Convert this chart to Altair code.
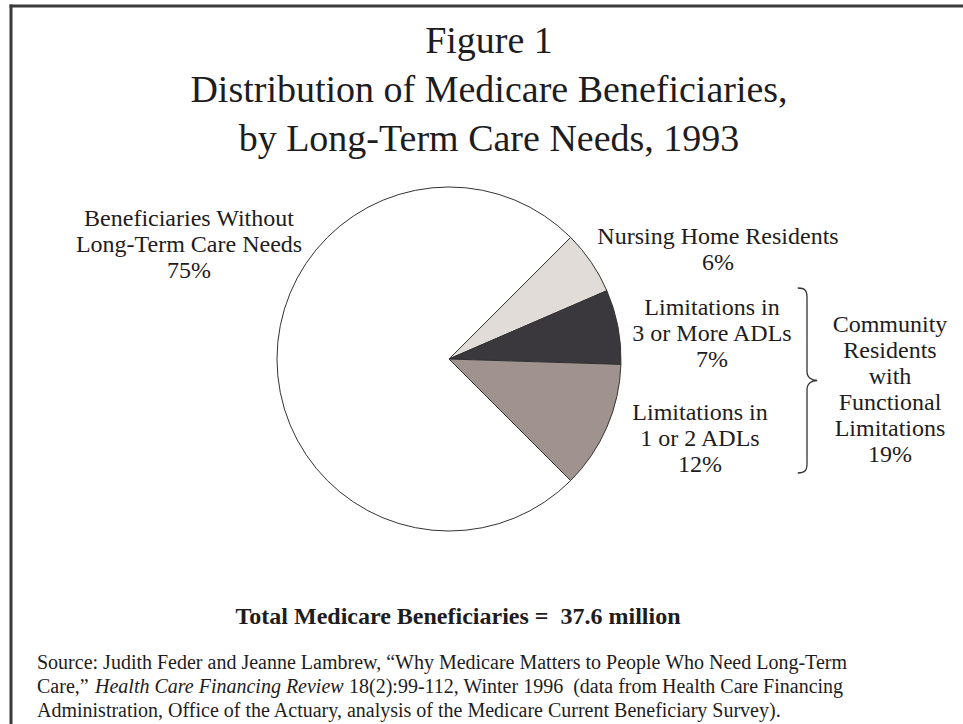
import math
import pandas as pd
import altair as alt

# ---------------- data ----------------
categories = [
    "Nursing Home Residents",
    "Limitations in 3 or More ADLs",
    "Limitations in 1 or 2 ADLs",
    "Beneficiaries Without Long-Term Care Needs",
]
shares = [6, 7, 12, 75]
slice_colors = ["#e2dcd9", "#3a383d", "#a0928e", "#ffffff"]
label_lines = [
    ["Nursing Home Residents"],
    ["Limitations in", "3 or More ADLs"],
    ["Limitations in", "1 or 2 ADLs"],
    ["Beneficiaries Without", "Long-Term Care Needs"],
]
group_lines = ["Community", "Residents", "with", "Functional", "Limitations"]
group_share = 19
title_lines = [
    "Figure 1",
    "Distribution of Medicare Beneficiaries,",
    "by Long-Term Care Needs, 1993",
]
NB = "\u00a0"
total_note = "Total Medicare Beneficiaries =" + NB + NB + "37.6 million"
source_line1 = "Source: Judith Feder and Jeanne Lambrew, \u201cWhy Medicare Matters to People Who Need Long-Term"
source_line2a = "Care,\u201d"
source_line2b = "Health Care Financing Review"
source_line2c = "18(2):99-112, Winter 1996" + NB + NB + "(data from Health Care Financing"
source_line3 = "Administration, Office of the Actuary, analysis of the Medicare Current Beneficiary Survey)."

FONT = "Liberation Serif"
INK = "#1e1c1d"

pie_df = pd.DataFrame({"category": categories, "share": shares, "idx": list(range(len(categories)))})

start = math.pi / 4
pie = (
    alt.Chart(pie_df)
    .mark_arc(radius=172, stroke="#333333", strokeWidth=1)
    .encode(
        theta=alt.Theta("share:Q", stack=True, scale=alt.Scale(range=[start, start + 2 * math.pi])),
        color=alt.Color("category:N", scale=alt.Scale(domain=categories, range=slice_colors), legend=None),
        order=alt.Order("idx:Q"),
        x=alt.value(449),
        y=alt.value(359),
    )
)


def txt(lines, x, y, size=24, align="center", weight="normal", style="normal", lh=26):
    """y is the middle of the first line."""
    df = pd.DataFrame({"label": ["\n".join(lines)]})
    return (
        alt.Chart(df)
        .mark_text(
            font=FONT, fontSize=size, align=align, baseline="middle", lineBreak="\n",
            lineHeight=lh, fontWeight=weight, fontStyle=style, color=INK,
        )
        .encode(x=alt.value(x), y=alt.value(y), text="label:N")
    )


layers = [pie]

# title
layers.append(txt(title_lines, 489, 42, size=38, lh=49))

# slice labels
pos = {
    0: (718, 237),
    1: (712, 308),
    2: (700, 413),
    3: (189, 219),
}
for i, lines in enumerate(label_lines):
    x, y = pos[i]
    layers.append(txt(lines + [f"{shares[i]}%"], x, y))

# group label
layers.append(txt(group_lines + [f"{group_share}%"], 890, 325))

# brace
brace_path = ("M -0.1 -1 C -0.02 -1 0 -0.97 0 -0.9 L 0 -0.1 C 0 -0.03 0.05 0 0.11 0 "
              "C 0.05 0 0 0.03 0 0.1 L 0 0.9 C 0 0.97 -0.02 1 -0.1 1")
brace = (
    alt.Chart(pd.DataFrame({"b": [1]}))
    .mark_point(shape=brace_path, filled=False, stroke="#333333", strokeWidth=1.3, size=185 * 185, opacity=1)
    .encode(x=alt.value(807), y=alt.value(380.5))
)
layers.append(brace)

# total note
layers.append(txt([total_note], 458, 617, size=24, weight="bold"))

# source
layers.append(txt([source_line1], 37, 663, size=20, align="left"))
layers.append(txt([source_line2a], 37, 687, size=20, align="left"))
layers.append(txt([source_line2b], 95, 687, size=20, align="left", style="italic"))
layers.append(txt([source_line2c], 349, 687, size=20, align="left"))
layers.append(txt([source_line3], 37, 711, size=20, align="left"))

# frame
frame_df = pd.DataFrame({"f": [1]})
top_rule = alt.Chart(frame_df).mark_rule(color="#3a3a3a", strokeWidth=3, strokeCap="square").encode(
    x=alt.value(11), x2=alt.value(963), y=alt.value(6)
)
left_rule = alt.Chart(frame_df).mark_rule(color="#3a3a3a", strokeWidth=3, strokeCap="square").encode(
    x=alt.value(11), y=alt.value(6), y2=alt.value(724)
)
layers += [top_rule, left_rule]

chart = (
    alt.layer(*layers)
    .properties(width=963, height=724, padding=0, autosize=alt.AutoSizeParams(type="none"), background="white")
    .configure_view(strokeWidth=0)
)

chart.save("out.html", embed_options={"renderer": "svg", "actions": False})
